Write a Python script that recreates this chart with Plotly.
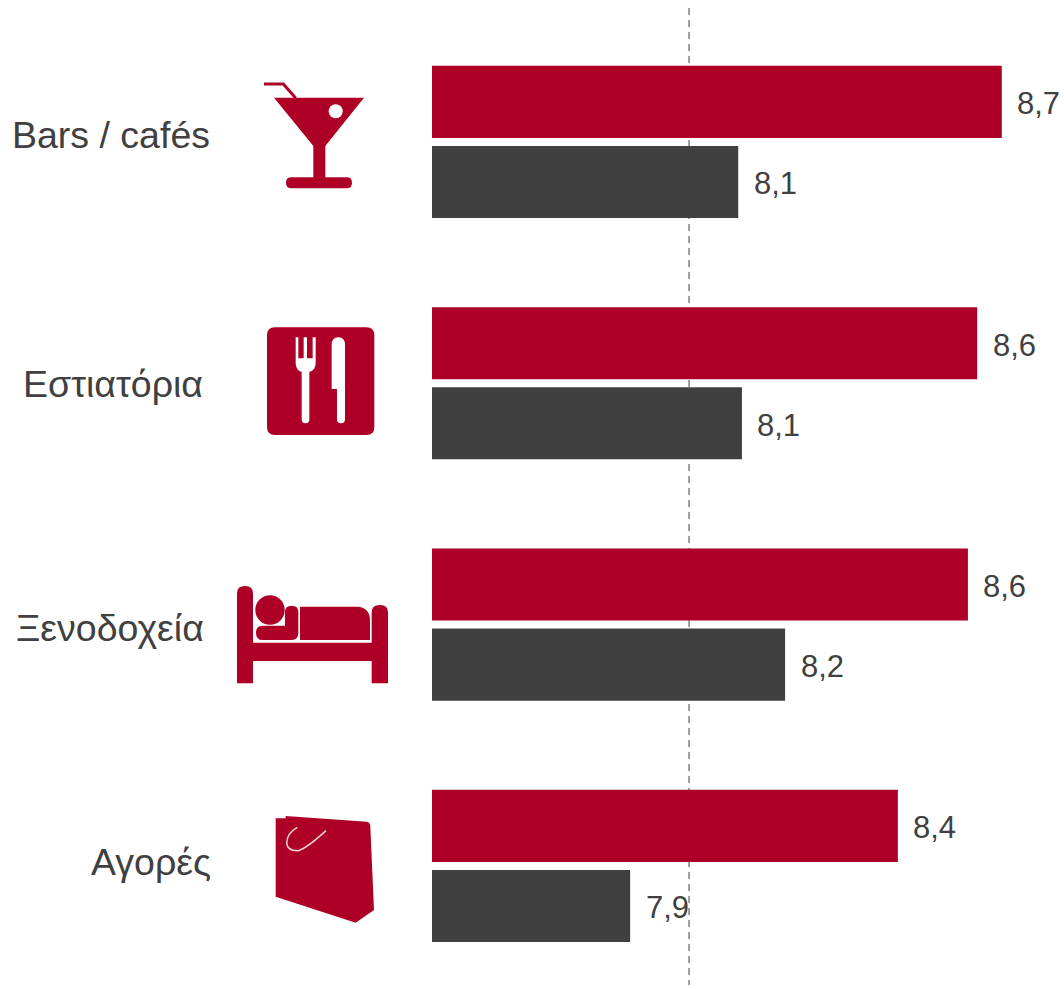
import re
import plotly.graph_objects as go

W, H = 1064, 989
categories = ["Bars / cafés", "Εστιατόρια", "Ξενοδοχεία", "Αγορές"]
series_a_values = [8.698, 8.645, 8.625, 8.474]
series_b_values = [8.13, 8.138, 8.231, 7.897]
series_a_labels = ["8,7", "8,6", "8,6", "8,4"]
series_b_labels = ["8,1", "8,1", "8,2", "7,9"]
reference_value = 8.024

RED = "#AE0026"
DARK = "#404040"
BASE = 7.47
PX_PER_UNIT = 464.0
BASE_PX = 432
x_min = BASE - BASE_PX / PX_PER_UNIT
x_max = x_min + W / PX_PER_UNIT
FONT = "Liberation Sans"


def p(ox, oy, d):
    """Turn a path written in 3x zoom pixels into paper coordinates."""
    nums = iter(re.findall(r"[A-Za-z]|-?\d+\.?\d*", d))
    out = []
    for tok in nums:
        if tok.isalpha():
            out.append(tok)
        else:
            x = (ox + float(tok) / 3) / W
            y = 1 - (oy + float(next(nums)) / 3) / H
            out.append(f"{x:.5f},{y:.5f}")
    return " ".join(out)


def fill(path, color=RED):
    return dict(type="path", xref="paper", yref="paper", path=path,
                fillcolor=color, line=dict(width=0), layer="above")


def stroke(path, color=RED, width=3):
    return dict(type="path", xref="paper", yref="paper", path=path,
                fillcolor="rgba(0,0,0,0)", line=dict(color=color, width=width), layer="above")


def circle(cx, cy, r, color):
    return dict(type="circle", xref="paper", yref="paper",
                x0=(cx - r) / W, x1=(cx + r) / W, y0=1 - (cy + r) / H, y1=1 - (cy - r) / H,
                fillcolor=color, line=dict(width=0), layer="above")


shapes = [
    dict(type="line", xref="x", yref="paper", x0=reference_value, x1=reference_value,
         y0=1 - 8 / H, y1=1 - 985 / H, layer="below",
         line=dict(color="#7F7F7F", width=1.5, dash="7px,5px")),
    # cocktail
    stroke(p(250, 70, "M 42 42 L 100 42 L 137 84")),
    fill(p(250, 70, "M 72 83 L 342 83 L 226 228 L 226 322 L 290 322 Q 306 322 306 338 Q 306 355 290 355 "
                    "L 125 355 Q 108 355 108 338 Q 108 322 125 322 L 190 322 L 190 228 Z")),
    circle(335.7, 111.3, 7, "white"),
    # cutlery
    fill(p(255, 320, "M 60 22 L 334 22 Q 358 22 358 46 L 358 321 Q 358 345 334 345 L 60 345 "
                     "Q 36 345 36 321 L 36 46 Q 36 22 60 22 Z")),
    fill(p(255, 320, "M 122 52 L 130 52 L 130 115 L 146 115 L 146 52 L 156 52 L 156 115 L 173 115 L 173 52 "
                     "L 182 52 L 182 130 Q 182 150 163 156 L 163 298 Q 163 310 151 310 Q 140 310 140 298 "
                     "L 140 156 Q 122 150 122 130 Z"), "white"),
    fill(p(255, 320, "M 230 75 Q 230 52 250 52 Q 270 52 270 75 L 270 298 Q 270 310 258 310 Q 246 310 246 298 "
                     "L 246 207 L 230 207 Z"), "white"),
    # bed
    fill(p(230, 575, "M 21 55 Q 21 33 45 33 Q 69 33 69 55 L 69 203 L 425 203 L 425 112 Q 425 90 450 90 "
                     "Q 474 90 474 112 L 474 325 L 425 325 L 425 258 L 69 258 L 69 325 L 21 325 Z")),
    circle(270, 610, 14.7, RED),
    fill(p(230, 575, "M 98 152 L 165 152 L 165 110 Q 165 92 185 92 Q 205 92 205 110 L 205 175 Q 205 195 185 195 "
                     "L 98 195 Q 78 195 78 173 Q 78 152 98 152 Z")),
    fill(p(230, 575, "M 210 95 L 385 95 Q 420 100 420 135 L 420 195 L 210 195 Z")),
    # bag
    fill(p(265, 805, "M 32 40 L 62 40 L 62 33 L 305 50 Q 316 52 316 65 L 327 315 L 272 353 L 32 275 Z")),
    stroke(p(265, 805, "M 97 67 Q 65 85 65 115 Q 68 138 100 137 Q 125 130 183 77"), "#F2D5DA", 1.5),
]

annotations = []
for name, cx, cy in zip(categories, [111, 113, 110, 151], [135, 384, 628, 862]):
    annotations.append(dict(text=name, xref="paper", yref="paper", x=cx / W, y=1 - cy / H,
                            xanchor="center", yanchor="middle", showarrow=False,
                            font=dict(family=FONT, size=37.5, color=DARK)))
for cat_i, cat in enumerate(categories):
    for vals, labs, shift in ((series_a_values, series_a_labels, 38), (series_b_values, series_b_labels, -42)):
        annotations.append(dict(text=labs[cat_i], xref="x", yref="y", x=vals[cat_i], y=cat,
                                xanchor="left", yanchor="middle", xshift=13.5, yshift=shift, showarrow=False,
                                font=dict(family=FONT, size=31, color=DARK)))

fig = go.Figure()
fig.add_bar(y=categories, x=[v - BASE for v in series_a_values], base=BASE, orientation="h",
            marker=dict(color=RED, line=dict(width=0)), name="A", hoverinfo="skip")
fig.add_bar(y=categories, x=[v - BASE for v in series_b_values], base=BASE, orientation="h",
            marker=dict(color=DARK, line=dict(width=0)), name="B", hoverinfo="skip")

fig.update_layout(
    width=W, height=H, margin=dict(l=0, r=0, t=0, b=0),
    barmode="group", bargap=0.336, bargroupgap=0.1,
    paper_bgcolor="white", plot_bgcolor="white", showlegend=False,
    xaxis=dict(range=[x_min, x_max], visible=False, fixedrange=True),
    yaxis=dict(range=[3.51, -0.588], visible=False, type="category",
               categoryorder="array", categoryarray=categories, fixedrange=True),
    shapes=shapes, annotations=annotations,
)
fig.write_html("out.html", config={"displayModeBar": False},
               post_script="document.body.style.margin='0';document.documentElement.style.overflow='hidden';")
